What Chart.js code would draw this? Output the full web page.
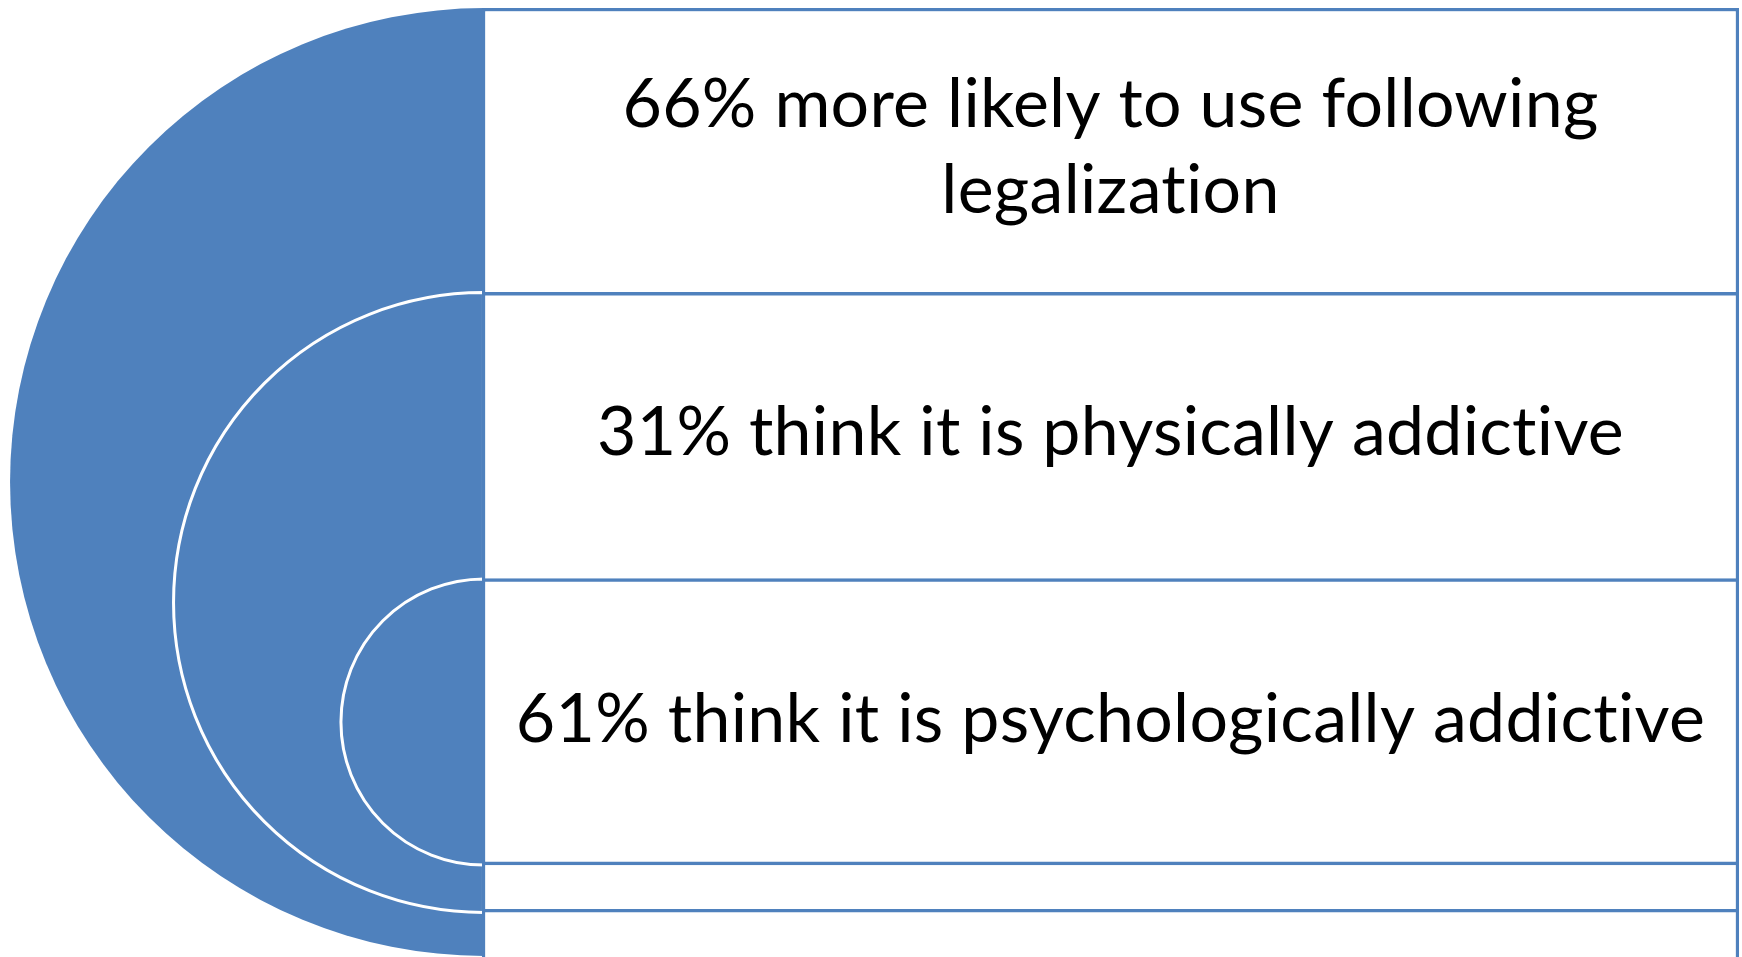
<!DOCTYPE html>
<html>
<head>
<meta charset="utf-8">
<script src="https://cdn.jsdelivr.net/npm/chart.js@4.4.0/dist/chart.umd.min.js"></script>
<style>
    html, body { margin: 0; padding: 0; background: #ffffff; overflow: hidden; }
    #wrap { position: relative; width: 1742px; height: 957px; overflow: hidden; }
    #wrap canvas { position: absolute; }
</style>
</head>
<body>
<div id="wrap">
    <canvas id="ring0"></canvas>
    <canvas id="ring1"></canvas>
    <canvas id="ring2"></canvas>
    <canvas id="boxChart" width="1742" height="972"></canvas>
</div>
<script>
// One statement per ring, outer to inner
const statements = [
    ['66% more likely to use following', 'legalization'],
    ['31% think it is physically addictive'],
    ['61% think it is psychologically addictive']
];
// Ring extents on the vertical axis (0 = top of outer ring, 100 = its bottom)
const ringTop = [0, 30, 60.2];
const ringBottom = [100, 95.4, 90.4];
// Box extents: each box runs down to its ring's bottom, the outer one past the frame
const boxBottom = [101.5, 95.4, 90.4];
const axisMax = 101.5;

const blue = '#4F81BD';
const fontFamily = 'Lato, "Noto Sans", sans-serif';
const fontSize = 68;
const lineHeight = 86;

// Writes each statement centred in the visible band of its box
const labelPlugin = {
    id: 'boxLabels',
    afterDatasetsDraw(chart) {
        const ctx = chart.ctx;
        const y = chart.scales.y;
        const area = chart.chartArea;
        const cx = (area.left + area.right) / 2;
        ctx.save();
        ctx.fillStyle = '#000000';
        ctx.font = fontSize + 'px ' + fontFamily;
        // a little tracking also keeps the font from joining "ti"
        if ('letterSpacing' in ctx) ctx.letterSpacing = '0.3px';
        ctx.textAlign = 'center';
        ctx.textBaseline = 'middle';
        statements.forEach((lines, i) => {
            const bandEnd = i + 1 < ringTop.length ? ringTop[i + 1] : ringBottom[i];
            const mid = (y.getPixelForValue(ringTop[i]) + y.getPixelForValue(bandEnd)) / 2;
            const start = mid - (lines.length - 1) * lineHeight / 2 - 2;
            lines.forEach((line, j) => {
                ctx.fillText(line, cx, start + j * lineHeight);
            });
        });
        ctx.restore();
    }
};

const boxCanvas = document.getElementById('boxChart');
boxCanvas.style.left = '0px';
boxCanvas.style.top = '0px';

const boxChart = new Chart(boxCanvas, {
    type: 'bar',
    data: {
        labels: ['rings'],
        datasets: statements.map((s, i) => ({
            label: s.join(' '),
            data: [[ringTop[i], boxBottom[i]]],
            backgroundColor: '#ffffff',
            borderColor: blue,
            borderWidth: 3.5,
            borderSkipped: false,
            grouped: false,
            barPercentage: 1,
            categoryPercentage: 1,
            order: statements.length - i
        }))
    },
    options: {
        responsive: false,
        animation: false,
        devicePixelRatio: 1,
        events: [],
        layout: { padding: { left: 482, right: 3, top: 8, bottom: 2 } },
        plugins: {
            legend: { display: false },
            tooltip: { enabled: false }
        },
        scales: {
            x: { display: false },
            y: { display: false, min: 0, max: axisMax, reverse: true }
        }
    },
    plugins: [labelPlugin]
});

// Half rings, placed from the box chart's own y scale
const yScale = boxChart.scales.y;
const flatX = boxChart.chartArea.left + 1.75;

ringTop.forEach((t, i) => {
    const top = yScale.getPixelForValue(t);
    const bottom = yScale.getPixelForValue(ringBottom[i]);
    const r = (bottom - top) / 2;
    const cy = top + r;
    const bw = i === 0 ? 0 : 3;

    const cv = document.getElementById('ring' + i);
    cv.width = Math.ceil(r + bw) + 2;
    cv.height = Math.ceil(2 * r + bw) + 2;

    const ringChart = new Chart(cv, {
        type: 'pie',
        data: {
            labels: ['ring ' + (i + 1)],
            datasets: [{
                data: [1],
                backgroundColor: blue,
                borderColor: '#ffffff',
                borderWidth: bw,
                borderAlign: 'center',
                radius: r
            }]
        },
        options: {
            responsive: false,
            animation: false,
            devicePixelRatio: 1,
            events: [],
            rotation: 180,
            circumference: 180,
            plugins: {
                legend: { display: false },
                tooltip: { enabled: false }
            }
        }
    });

    const arc = ringChart.getDatasetMeta(0).data[0];
    cv.style.left = (flatX - arc.x) + 'px';
    cv.style.top = (cy - arc.y) + 'px';
});
</script>
</body>
</html>
